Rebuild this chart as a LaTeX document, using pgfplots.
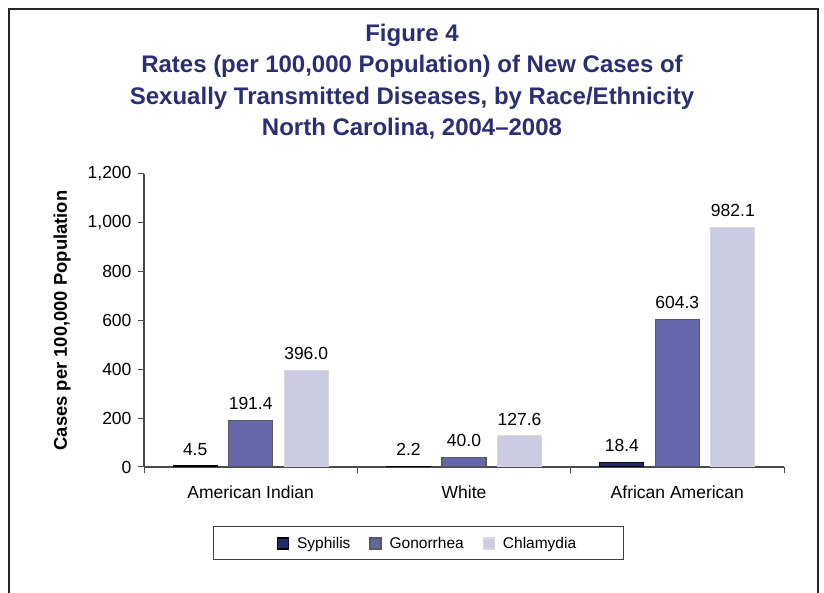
\documentclass[border=0pt]{standalone}
\usepackage{pgfplots}
\pgfplotsset{compat=1.18}
\usepackage{fontspec}
\setmainfont{Liberation Sans}
\definecolor{titleblue}{HTML}{2B2E72}
\definecolor{syph}{HTML}{26286C}
\definecolor{gono}{HTML}{6667AB}
\definecolor{chla}{HTML}{CBCBE3}
\definecolor{axgray}{HTML}{4A4A4A}
\pgfplotsset{sqleg/.style={legend image code/.code={\draw[##1] (0pt,-5.5pt) rectangle (11pt,5.5pt);}}}
\begin{document}
\begin{tikzpicture}[x=1pt,y=1pt]
\path[use as bounding box] (0,0) rectangle (824,593);
\draw[line width=1.8pt, black!85] (9,0) -- (9,584) -- (818,584) -- (818,0);
\node[align=center, font=\fontsize{24}{31.5}\selectfont\bfseries, text=titleblue] at (412,511.5) {Figure 4\\Rates (per 100,000 Population) of New Cases of\\Sexually Transmitted Diseases, by Race/Ethnicity\\North Carolina, 2004--2008};
\begin{axis}[
  at={(144pt,126pt)}, anchor=south west,
  width=640pt, height=293pt, scale only axis,
  xmin=-0.5, xmax=2.5, ymin=0, ymax=1200,
  ybar=11.5pt, bar width=44pt,
  axis x line*=bottom, axis y line*=left,
  axis line style={axgray, line width=1.2pt, -},
  xtick={-0.5,0.5,1.5,2.5}, xticklabels={},
  extra x ticks={0,1,2},
  extra x tick labels={American Indian, White, African American},
  extra x tick style={major tick length=0pt, tick label style={yshift=-15pt}},
  ytick={0,200,...,1200},
  tick align=outside, major tick length=6pt,
  tick style={axgray, line width=1pt},
  ticklabel style={font=\fontsize{17.5}{20}\selectfont, text=black},
  yticklabel style={xshift=-3pt},
  /pgf/number format/assume math mode=true,
  /pgf/number format/1000 sep={,},
  ylabel={Cases per 100,000 Population},
  every axis y label/.style={at={(axis description cs:-0.128,0.5)}, rotate=90, anchor=center, font=\fontsize{18.4}{20}\selectfont\bfseries},
  nodes near coords,
  every node near coord/.append style={font=\fontsize{17.5}{20}\selectfont, text=black, inner sep=0pt, yshift=10pt, /pgf/number format/fixed, /pgf/number format/fixed zerofill, /pgf/number format/precision=1},
  legend style={at={(rel axis cs:0.443,-0.261)}, anchor=center, draw=none, fill=none, legend columns=3, font=\fontsize{15.5}{18}\selectfont,
    /tikz/every odd column/.append style={column sep=6pt},
    /tikz/every even column/.append style={column sep=17pt}},
]
\addplot[fill=syph, draw=black, line width=1.2pt, sqleg] coordinates {(0,4.5) (1,2.2) (2,18.4)};
\addplot[fill=gono, draw=black!65, line width=1.2pt, sqleg] coordinates {(0,191.4) (1,40.0) (2,604.3)};
\addplot[fill=chla, draw=black!15, line width=1.2pt, sqleg] coordinates {(0,396.0) (1,127.6) (2,982.1)};
\legend{Syphilis, Gonorrhea, Chlamydia}
\end{axis}
\draw[line width=1pt, black!75] (213,33) rectangle (623,66);
\end{tikzpicture}
\end{document}
